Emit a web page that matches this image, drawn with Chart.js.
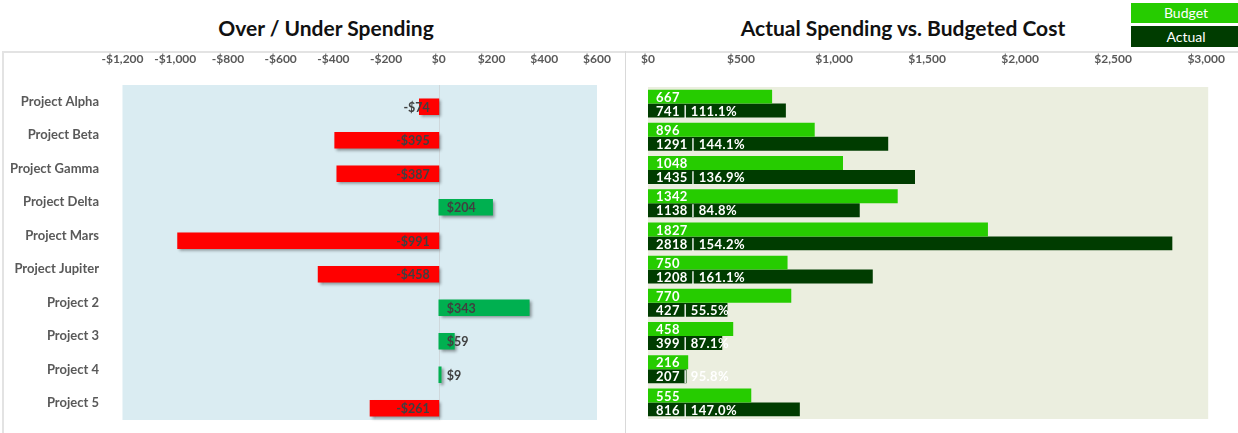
<!DOCTYPE html>
<html><head><meta charset="utf-8">
<script src="https://cdn.jsdelivr.net/npm/chart.js@4.4.1/dist/chart.umd.min.js"></script>
<style>
body{margin:0;width:1238px;height:433px;overflow:hidden;background:#fff;position:relative;font-family:Lato,"Open Sans",sans-serif}
.frame{position:absolute;left:2px;top:51px;width:1260px;height:420px;border:2px solid #e3e3e3;box-sizing:border-box}
.divider{position:absolute;left:625px;top:51px;width:1px;height:400px;background:#d9d9d9}
.title{position:absolute;top:16px;height:24px;line-height:24px;text-align:center;font-weight:bold;font-size:21px;color:#111}
.leg{position:absolute;left:1131px;width:110px;text-align:center;color:#fff;font-size:14px}
canvas{position:absolute}
</style></head><body>
<div class="frame"></div>
<div class="divider"></div>
<div class="title" style="left:6px;width:640px">Over / Under Spending</div>
<div class="title" style="left:626px;width:554px">Actual Spending vs. Budgeted Cost</div>
<div class="leg" style="top:3px;height:20px;line-height:20px;background:#26cc00">Budget</div>
<div class="leg" style="top:26px;height:21px;line-height:21px;background:#003c00">Actual</div>
<canvas id="c1" width="626" height="381" style="left:0;top:52px"></canvas>
<canvas id="c2" width="612" height="381" style="left:626px;top:52px"></canvas>
<script>
const projects = ['Project Alpha','Project Beta','Project Gamma','Project Delta','Project Mars','Project Jupiter','Project 2','Project 3','Project 4','Project 5'];
const budget = [667, 896, 1048, 1342, 1827, 750, 770, 458, 216, 555];
const actual = [741, 1291, 1435, 1138, 2818, 1208, 427, 399, 207, 816];
const variance = [-74, -395, -387, 204, -991, -458, 343, 59, 9, -261];

const FONT = 'Lato, "Open Sans", sans-serif';
const money = v => (v < 0 ? '-' : '') + '$' + Math.abs(v).toLocaleString('en-US');

// Left chart
const leftPlugin = {
  id: 'leftDeco',
  beforeDatasetsDraw(chart) {
    const {ctx, chartArea: a, scales} = chart;
    ctx.save();
    ctx.fillStyle = '#daecf2';
    ctx.fillRect(a.left, a.top - 5, a.right - a.left, a.bottom - a.top);
    const zx = Math.round(scales.x.getPixelForValue(0)) + 0.5;
    ctx.strokeStyle = '#cfd8dc';
    ctx.lineWidth = 1;
    ctx.beginPath(); ctx.moveTo(zx, a.top - 5); ctx.lineTo(zx, a.bottom - 5); ctx.stroke();
    ctx.restore();
    ctx.save();
    ctx.shadowColor = 'rgba(0,0,0,0.4)';
    ctx.shadowBlur = 3;
    ctx.shadowOffsetX = 2;
    ctx.shadowOffsetY = 2;
  },
  afterDatasetsDraw(chart) {
    const {ctx, scales} = chart;
    ctx.restore();
    const zx = scales.x.getPixelForValue(0);
    const meta = chart.getDatasetMeta(0);
    ctx.save();
    ctx.font = 'bold 12.5px ' + FONT;
    ctx.fillStyle = '#404040';
    ctx.textBaseline = 'middle';
    meta.data.forEach((el, i) => {
      const v = variance[i];
      if (v < 0) { ctx.textAlign = 'right'; ctx.fillText(money(v), zx - 9, el.y + 1); }
      else { ctx.textAlign = 'left'; ctx.fillText(money(v), zx + 8, el.y + 1); }
    });
    ctx.restore();
  }
};

new Chart(document.getElementById('c1'), {
  type: 'bar',
  data: {
    labels: projects,
    datasets: [{
      data: variance,
      backgroundColor: variance.map(v => v < 0 ? '#ff0000' : '#00b050'),
      borderWidth: 0,
      barThickness: 16
    }]
  },
  options: {
    responsive: false, animation: false, indexAxis: 'y',
    layout: {padding: {left: 0, right: 29, top: 0, bottom: 8}},
    plugins: {legend: {display: false}, tooltip: {enabled: false}},
    scales: {
      x: {
        position: 'top', min: -1200, max: 600,
        grid: {display: false}, border: {display: false},
        ticks: {stepSize: 200, callback: v => money(v), color: '#595959', padding: 16,
                font: {family: FONT, size: 12, weight: 'bold'}, maxRotation: 0, autoSkip: false},
        afterFit(s) { s.height = 38; s.paddingLeft = 0; s.paddingRight = 0; }
      },
      y: {
        grid: {display: false}, border: {display: false},
        ticks: {color: '#595959', labelOffset: -5, padding: 15.5, autoSkip: false,
                font: {family: FONT, size: 13, weight: 'bold'}},
        afterFit(s) { s.width = 122.5; s.paddingTop = 0; s.paddingBottom = 0; }
      }
    }
  },
  plugins: [leftPlugin]
});

// Right chart
const rightPlugin = {
  id: 'rightDeco',
  beforeDatasetsDraw(chart) {
    const {ctx, chartArea: a} = chart;
    ctx.save();
    ctx.fillStyle = '#ebeedf';
    ctx.fillRect(a.left, a.top, a.right - a.left + 2, a.bottom - a.top);
    ctx.restore();
  },
  afterDatasetsDraw(chart) {
    const {ctx, scales} = chart;
    const zx = scales.x.getPixelForValue(0);
    ctx.save();
    ctx.font = 'bold 13px ' + FONT;
    try { ctx.letterSpacing = '0.4px'; } catch (e) {}
    ctx.fillStyle = '#ffffff';
    ctx.textBaseline = 'middle';
    ctx.textAlign = 'left';
    chart.getDatasetMeta(0).data.forEach((el, i) => {
      ctx.fillText(String(budget[i]), zx + 8, el.y + 1);
    });
    chart.getDatasetMeta(1).data.forEach((el, i) => {
      const pct = (actual[i] / budget[i] * 100).toFixed(1);
      ctx.fillText(actual[i] + ' | ' + pct + '%', zx + 8, el.y + 1);
    });
    ctx.restore();
  }
};

new Chart(document.getElementById('c2'), {
  type: 'bar',
  data: {
    labels: projects,
    datasets: [
      {label: 'Budget', data: budget, backgroundColor: '#26cc00', borderWidth: 0, categoryPercentage: 0.84, barPercentage: 1},
      {label: 'Actual', data: actual, backgroundColor: '#003c00', borderWidth: 0, categoryPercentage: 0.84, barPercentage: 1}
    ]
  },
  options: {
    responsive: false, animation: false, indexAxis: 'y',
    layout: {padding: {left: 22, right: 30, top: 0, bottom: 14}},
    plugins: {legend: {display: false}, tooltip: {enabled: false}},
    scales: {
      x: {
        position: 'top', min: 0, max: 3000,
        grid: {display: false}, border: {display: false},
        ticks: {stepSize: 500, callback: v => money(v), color: '#595959', padding: 13,
                font: {family: FONT, size: 12, weight: 'bold'}, maxRotation: 0, autoSkip: false},
        afterFit(s) { s.height = 35; }
      },
      y: {display: false}
    }
  },
  plugins: [rightPlugin]
});
</script>
</body></html>
